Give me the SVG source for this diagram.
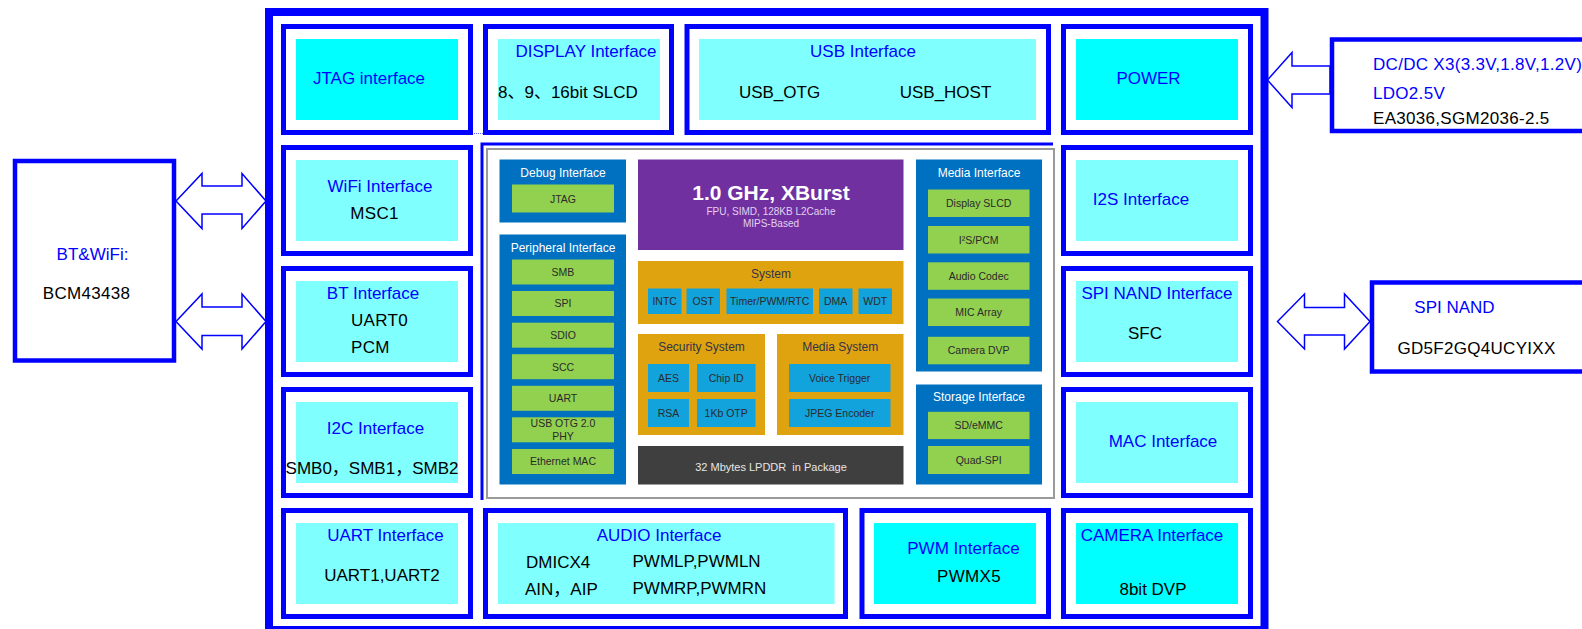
<svg xmlns="http://www.w3.org/2000/svg" width="1582" height="629" viewBox="0 0 1582 629">
<style>
.frame{fill:none;stroke:#0000FF;stroke-width:8}
.box{fill:#fff;stroke:#0000FF;stroke-width:5}
.ext{fill:#fff;stroke:#0000FF;stroke-width:4.5}
.f1{fill:#00FFFF}
.f2{fill:#80FFFF}
.lb{font-family:"Liberation Sans","Noto Sans CJK SC",sans-serif;font-size:17px;fill:#0000FF}
.lk{font-family:"Liberation Sans","Noto Sans CJK SC",sans-serif;font-size:17px;fill:#000}
.sp{letter-spacing:0.3px}
.m{text-anchor:middle}
.arr{fill:#fff;stroke:#0000FF;stroke-width:1.5;stroke-linejoin:miter}
.pan{fill:#0070C0}
.grn{fill:#92D050}
.blu{fill:#12A2DC}
.org{fill:#DFA30F}
.pt{font-family:"Liberation Sans",Arial,sans-serif;font-size:12px;fill:#fff;text-anchor:middle}
.gt{font-family:"Liberation Sans",Arial,sans-serif;font-size:10.5px;fill:#2a2a2a;text-anchor:middle}
.ot{font-family:"Liberation Sans",Arial,sans-serif;font-size:12px;fill:#33334a;text-anchor:middle}
</style>

<rect class="frame" x="269" y="12" width="995.5" height="618"/>

<g id="connectors">
  <polygon class="arr" points="176,201 202,173.5 202,186 242,186 242,173.5 266,201 242,228.5 242,214 202,214 202,228.5"/>
  <polygon class="arr" points="176,321.5 202,294 202,307 242,307 242,294 266,321.5 242,349 242,335.5 202,335.5 202,349"/>
  <polygon class="arr" points="1267.5,80 1292,52.5 1292,66 1330,66 1330,94 1292,94 1292,107.5"/>
  <polygon class="arr" points="1277.5,321.5 1304.5,294 1304.5,307.5 1344.5,307.5 1344.5,294 1370,321.5 1344.5,349 1344.5,335 1304.5,335 1304.5,349"/>
  <line x1="474" y1="133.5" x2="483" y2="133.5" stroke="#6666ff" stroke-width="1" stroke-dasharray="1 1"/>
</g>

<g id="bt-wifi">
  <rect class="ext" x="15" y="161" width="159" height="199.5"/>
  <text class="lb m" x="92.5" y="259.5">BT&amp;WiFi:</text>
  <text class="lk m sp" x="86.5" y="299">BCM43438</text>
</g>

<g id="dcdc">
  <rect class="ext" x="1332" y="39.5" width="270" height="91.5"/>
  <text class="lb sp" x="1373" y="70">DC/DC X3(3.3V,1.8V,1.2V)</text>
  <text class="lb sp" x="1373" y="98.5">LDO2.5V</text>
  <text class="lk sp" x="1373" y="124">EA3036,SGM2036-2.5</text>
</g>

<g id="spinand-chip">
  <rect class="ext" x="1372" y="282.5" width="230" height="89"/>
  <text class="lb m" x="1454.5" y="313">SPI NAND</text>
  <text class="lk m sp" x="1476.5" y="353.5">GD5F2GQ4UCYIXX</text>
</g>

<g id="jtag">
  <rect class="box" x="283.5" y="26.5" width="187" height="106"/>
  <rect class="f1" x="296" y="39" width="162" height="81"/>
  <text class="lb m" x="369" y="84">JTAG interface</text>
</g>
<g id="display">
  <rect class="box" x="485.5" y="26.5" width="186" height="106"/>
  <rect class="f2" x="498" y="39" width="162" height="81"/>
  <text class="lb m" x="586" y="57">DISPLAY Interface</text>
  <text class="lk" x="498" y="98">8、9、16bit SLCD</text>
</g>
<g id="usb">
  <rect class="box" x="687" y="26.5" width="361.5" height="106"/>
  <rect class="f2" x="699" y="39" width="337" height="81"/>
  <text class="lb m" x="863" y="57">USB Interface</text>
  <text class="lk m" x="779.5" y="98">USB_OTG</text>
  <text class="lk m" x="945.5" y="98">USB_HOST</text>
</g>
<g id="power">
  <rect class="box" x="1063.5" y="26.5" width="187" height="106"/>
  <rect class="f1" x="1076" y="39" width="162" height="81"/>
  <text class="lb m" x="1148.5" y="84">POWER</text>
</g>

<g id="wifi">
  <rect class="box" x="283.5" y="147.5" width="187" height="106"/>
  <rect class="f2" x="296" y="160" width="162" height="81"/>
  <text class="lb m" x="380" y="192">WiFi Interface</text>
  <text class="lk m sp" x="374.5" y="219">MSC1</text>
</g>
<g id="bt">
  <rect class="box" x="283.5" y="268.5" width="187" height="106"/>
  <rect class="f2" x="296" y="281" width="162" height="81"/>
  <text class="lb m" x="373" y="299">BT Interface</text>
  <text class="lk sp" x="351" y="326">UART0</text>
  <text class="lk sp" x="351" y="353">PCM</text>
</g>
<g id="i2c">
  <rect class="box" x="283.5" y="389.5" width="187" height="106"/>
  <rect class="f2" x="296" y="402" width="162" height="81"/>
  <text class="lb m" x="375.5" y="434">I2C Interface</text>
  <text class="lk m" x="372" y="473.5">SMB0，SMB1，SMB2</text>
</g>
<g id="uart">
  <rect class="box" x="283.5" y="510.5" width="187" height="106"/>
  <rect class="f2" x="296" y="523" width="162" height="81"/>
  <text class="lb m" x="385.5" y="540.5">UART Interface</text>
  <text class="lk m" x="382" y="580.5">UART1,UART2</text>
</g>

<g id="i2s">
  <rect class="box" x="1063.5" y="147.5" width="187" height="106"/>
  <rect class="f2" x="1076" y="160" width="162" height="81"/>
  <text class="lb m" x="1141" y="205">I2S Interface</text>
</g>
<g id="spinand-if">
  <rect class="box" x="1063.5" y="268.5" width="187" height="106"/>
  <rect class="f2" x="1076" y="281" width="162" height="81"/>
  <text class="lb m" x="1157" y="299">SPI NAND Interface</text>
  <text class="lk m" x="1145" y="339">SFC</text>
</g>
<g id="mac">
  <rect class="box" x="1063.5" y="389.5" width="187" height="106"/>
  <rect class="f2" x="1076" y="402" width="162" height="81"/>
  <text class="lb m" x="1163" y="447">MAC Interface</text>
</g>
<g id="camera">
  <rect class="box" x="1063.5" y="510.5" width="187" height="106"/>
  <rect class="f1" x="1076" y="523" width="162" height="81"/>
  <text class="lb m" x="1152" y="540.5">CAMERA Interface</text>
  <text class="lk m" x="1153" y="594.5">8bit DVP</text>
</g>

<g id="audio">
  <rect class="box" x="485.5" y="510.5" width="360" height="106"/>
  <rect class="f2" x="498" y="523" width="336.5" height="81"/>
  <text class="lb m" x="659" y="541">AUDIO Interface</text>
  <text class="lk" x="526" y="568">DMICX4</text>
  <text class="lk" x="525" y="595">AIN，AIP</text>
  <text class="lk" x="632.5" y="567">PWMLP,PWMLN</text>
  <text class="lk" x="632.5" y="594">PWMRP,PWMRN</text>
</g>
<g id="pwm">
  <rect class="box" x="862" y="510.5" width="186.5" height="106"/>
  <rect class="f1" x="874" y="523" width="162" height="81"/>
  <text class="lb m" x="963.5" y="554">PWM Interface</text>
  <text class="lk m sp" x="969" y="582">PWMX5</text>
</g>

<g id="soc">
  <polyline points="482,500 482,144 1053,144" fill="none" stroke="#0000FF" stroke-width="3"/>
  <rect x="487" y="149" width="567" height="349" fill="#fff" stroke="#9a9a9a" stroke-width="2"/>

  <g id="debug-if">
    <rect class="pan" x="499.5" y="159.5" width="126.5" height="63"/>
    <text class="pt" x="563" y="176.5">Debug Interface</text>
    <rect class="grn" x="512" y="184.5" width="102" height="28"/>
    <text class="gt" x="563" y="202.5">JTAG</text>
  </g>

  <g id="peripheral-if">
    <rect class="pan" x="499.5" y="234.5" width="126.5" height="250"/>
    <text class="pt" x="563" y="251.5">Peripheral Interface</text>
    <rect class="grn" x="512" y="259.5" width="102" height="25"/>
    <text class="gt" x="563" y="275.8">SMB</text>
    <rect class="grn" x="512" y="291" width="102" height="25"/>
    <text class="gt" x="563" y="307.3">SPI</text>
    <rect class="grn" x="512" y="322.7" width="102" height="25"/>
    <text class="gt" x="563" y="339">SDIO</text>
    <rect class="grn" x="512" y="354.2" width="102" height="25"/>
    <text class="gt" x="563" y="370.5">SCC</text>
    <rect class="grn" x="512" y="385.8" width="102" height="25"/>
    <text class="gt" x="563" y="402">UART</text>
    <rect class="grn" x="512" y="417.3" width="102" height="25"/>
    <text class="gt" x="563" y="427">USB OTG 2.0</text>
    <text class="gt" x="563" y="439.7">PHY</text>
    <rect class="grn" x="512" y="449" width="102" height="25"/>
    <text class="gt" x="563" y="465.3">Ethernet MAC</text>
  </g>

  <g id="cpu">
    <rect x="638" y="159.5" width="265.5" height="90.5" fill="#7030A0"/>
    <text x="771" y="200" font-family="Liberation Sans,Arial,sans-serif" font-size="21" font-weight="bold" fill="#fff" text-anchor="middle">1.0 GHz, XBurst</text>
    <text x="771" y="215.3" font-family="Liberation Sans,Arial,sans-serif" font-size="10" fill="#e2d2f2" text-anchor="middle">FPU, SIMD, 128KB L2Cache</text>
    <text x="771" y="227.3" font-family="Liberation Sans,Arial,sans-serif" font-size="10" fill="#e2d2f2" text-anchor="middle">MIPS-Based</text>
  </g>

  <g id="system">
    <rect class="org" x="638" y="261" width="265.5" height="63"/>
    <text class="ot" x="771" y="278">System</text>
    <rect class="blu" x="648" y="288.5" width="33.5" height="25.5"/>
    <text class="gt" x="664.7" y="304.8">INTC</text>
    <rect class="blu" x="686.5" y="288.5" width="33.5" height="25.5"/>
    <text class="gt" x="703.2" y="304.8">OST</text>
    <rect class="blu" x="726.5" y="288.5" width="86.5" height="25.5"/>
    <text class="gt" x="769.7" y="304.8">Timer/PWM/RTC</text>
    <rect class="blu" x="819" y="288.5" width="33.5" height="25.5"/>
    <text class="gt" x="835.7" y="304.8">DMA</text>
    <rect class="blu" x="858.5" y="288.5" width="33.5" height="25.5"/>
    <text class="gt" x="875.2" y="304.8">WDT</text>
  </g>

  <g id="security">
    <rect class="org" x="638" y="334" width="127" height="101"/>
    <text class="ot" x="701.5" y="351">Security System</text>
    <rect class="blu" x="648" y="364" width="41" height="28"/>
    <text class="gt" x="668.5" y="381.8">AES</text>
    <rect class="blu" x="697" y="364" width="58.5" height="28"/>
    <text class="gt" x="726.2" y="381.8">Chip ID</text>
    <rect class="blu" x="648" y="399" width="41" height="28"/>
    <text class="gt" x="668.5" y="416.8">RSA</text>
    <rect class="blu" x="697" y="399" width="58.5" height="28"/>
    <text class="gt" x="726.2" y="416.8">1Kb OTP</text>
  </g>

  <g id="media-system">
    <rect class="org" x="777" y="334" width="126.5" height="101"/>
    <text class="ot" x="840.2" y="351">Media System</text>
    <rect class="blu" x="789" y="364" width="101.5" height="28"/>
    <text class="gt" x="839.7" y="381.8">Voice Trigger</text>
    <rect class="blu" x="789" y="399" width="101.5" height="28"/>
    <text class="gt" x="839.7" y="416.8">JPEG Encoder</text>
  </g>

  <g id="lpddr">
    <rect x="638" y="446" width="265.5" height="38.5" fill="#3f3f3f"/>
    <text x="771" y="470.6" font-family="Liberation Sans,Arial,sans-serif" font-size="11" fill="#e6e6e6" text-anchor="middle" xml:space="preserve">32 Mbytes LPDDR  in Package</text>
  </g>

  <g id="media-if">
    <rect class="pan" x="916" y="159.5" width="126" height="212"/>
    <text class="pt" x="979" y="176.6">Media Interface</text>
    <rect class="grn" x="928" y="189.5" width="101.5" height="27.5"/>
    <text class="gt" x="978.7" y="207">Display SLCD</text>
    <rect class="grn" x="928" y="226" width="101.5" height="27.5"/>
    <text class="gt" x="978.7" y="243.5">I²S/PCM</text>
    <rect class="grn" x="928" y="262.3" width="101.5" height="27.5"/>
    <text class="gt" x="978.7" y="279.8">Audio Codec</text>
    <rect class="grn" x="928" y="298.5" width="101.5" height="27.5"/>
    <text class="gt" x="978.7" y="316">MIC Array</text>
    <rect class="grn" x="928" y="336.8" width="101.5" height="27.5"/>
    <text class="gt" x="978.7" y="354.3">Camera DVP</text>
  </g>

  <g id="storage-if">
    <rect class="pan" x="916" y="384.5" width="126" height="100"/>
    <text class="pt" x="979" y="401.3">Storage Interface</text>
    <rect class="grn" x="928" y="411.8" width="101.5" height="27.3"/>
    <text class="gt" x="978.7" y="429.2">SD/eMMC</text>
    <rect class="grn" x="928" y="446" width="101.5" height="28"/>
    <text class="gt" x="978.7" y="463.8">Quad-SPI</text>
  </g>
</g>
</svg>
